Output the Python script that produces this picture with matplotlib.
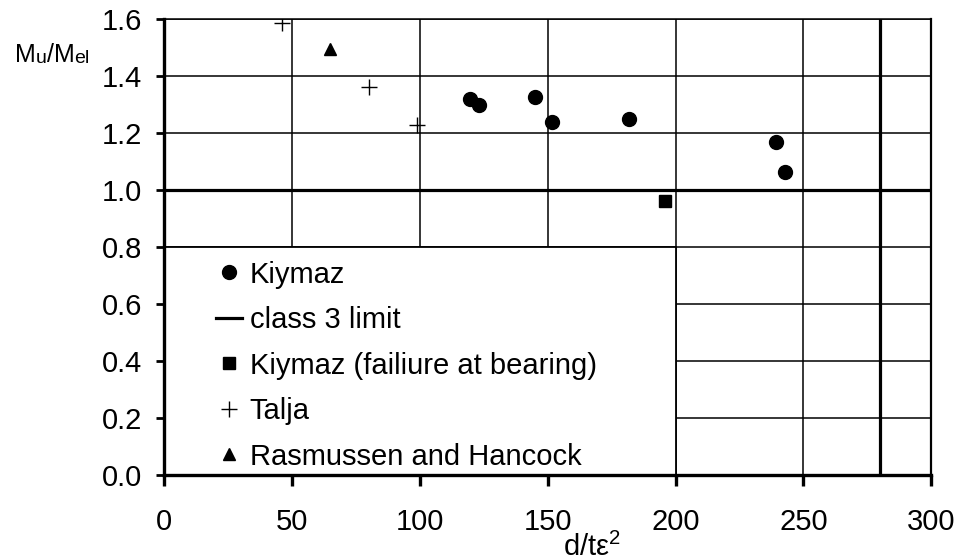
import numpy as np
import matplotlib
matplotlib.use("Agg")
import matplotlib.pyplot as plt
from matplotlib.patches import Rectangle

# data
kiymaz_x = [119.7, 123.2, 145.1, 151.6, 182.0, 239.2, 243.0]
kiymaz_y = [1.318, 1.300, 1.327, 1.238, 1.248, 1.168, 1.062]
bearing_x = [195.7]
bearing_y = [0.96]
talja_x = [46.0, 80.2, 99.1]
talja_y = [1.585, 1.362, 1.227]
rasmussen_x = [64.7]
rasmussen_y = [1.495]
class3_x = [280, 280]
class3_y = [0.0, 1.6]
elastic_ratio = 1.0

x_ticks = [0, 50, 100, 150, 200, 250, 300]
y_ticks = [0.0, 0.2, 0.4, 0.6, 0.8, 1.0, 1.2, 1.4, 1.6]

plt.rcParams['font.family'] = ['Liberation Sans', 'DejaVu Sans']
plt.rcParams['mathtext.fontset'] = 'custom'
plt.rcParams['mathtext.rm'] = 'Liberation Sans'
plt.rcParams['mathtext.it'] = 'Liberation Sans:italic'

fs = 21

fig = plt.figure(figsize=(9.65, 5.6), dpi=100)
ax = fig.add_axes([0.170, 0.152, 0.795, 0.814])

# series
ax.plot(kiymaz_x, kiymaz_y, 'o', color='black', ms=10, ls='none', label='Kiymaz', zorder=4)
ax.plot(class3_x, class3_y, '-', color='black', lw=2.3, label='class 3 limit', zorder=2)
ax.plot(bearing_x, bearing_y, 's', color='black', ms=9, ls='none',
        label='Kiymaz (failiure at bearing)', zorder=4)
ax.plot(talja_x, talja_y, '+', color='black', ms=11, mew=1.0, ls='none', label='Talja', zorder=4)
ax.plot(rasmussen_x, rasmussen_y, '^', color='black', ms=9, ls='none',
        label='Rasmussen and Hancock', zorder=4)
ax.axhline(elastic_ratio, color='black', lw=2.3, zorder=2)

ax.set_xlim(0, 300)
ax.set_ylim(0, 1.6)
ax.set_xticks(x_ticks)
ax.set_yticks(y_ticks)
ax.set_yticklabels([f'{v:.1f}' for v in y_ticks])
ax.set_axisbelow(True)
ax.grid(True, color='black', lw=1.1)

for side in ['left', 'bottom']:
    ax.spines[side].set_linewidth(2.4)
ax.spines['top'].set_linewidth(1.1)
ax.spines['right'].set_linewidth(1.6)

ax.tick_params(axis='y', direction='out', length=6, width=2, pad=10, labelsize=fs)
ax.tick_params(axis='x', direction='out', length=8, width=2.4, pad=16, labelsize=fs)

# legend box sitting on the grid
ax.add_patch(Rectangle((0, 0), 2 / 3, 0.5, transform=ax.transAxes, facecolor='white',
                       edgecolor='black', lw=1.3, zorder=1.5))
leg = ax.legend(loc='upper left', bbox_to_anchor=(0.0678, 0.470), frameon=False,
                borderpad=0, borderaxespad=0, handlelength=0.9, handletextpad=0.25,
                labelspacing=0.6, fontsize=fs)
leg.set_zorder(3)

# axis labels
ax.text(0.558, -0.158, r'd/t$\mathregular{\epsilon^{2}}$', transform=ax.transAxes,
        fontsize=fs, ha='center', va='center')

t = fig.text(15 / 965, 0.889, 'M', fontsize=18, va='baseline')
t = ax.annotate('u', xy=(1, 0), xycoords=t, fontsize=14, va='bottom')
t = ax.annotate('/M', xy=(1, 0), xycoords=t, fontsize=18, va='bottom')
t = ax.annotate('el', xy=(1, 0), xycoords=t, fontsize=14, va='bottom')

fig.savefig('out.png', dpi=100)
